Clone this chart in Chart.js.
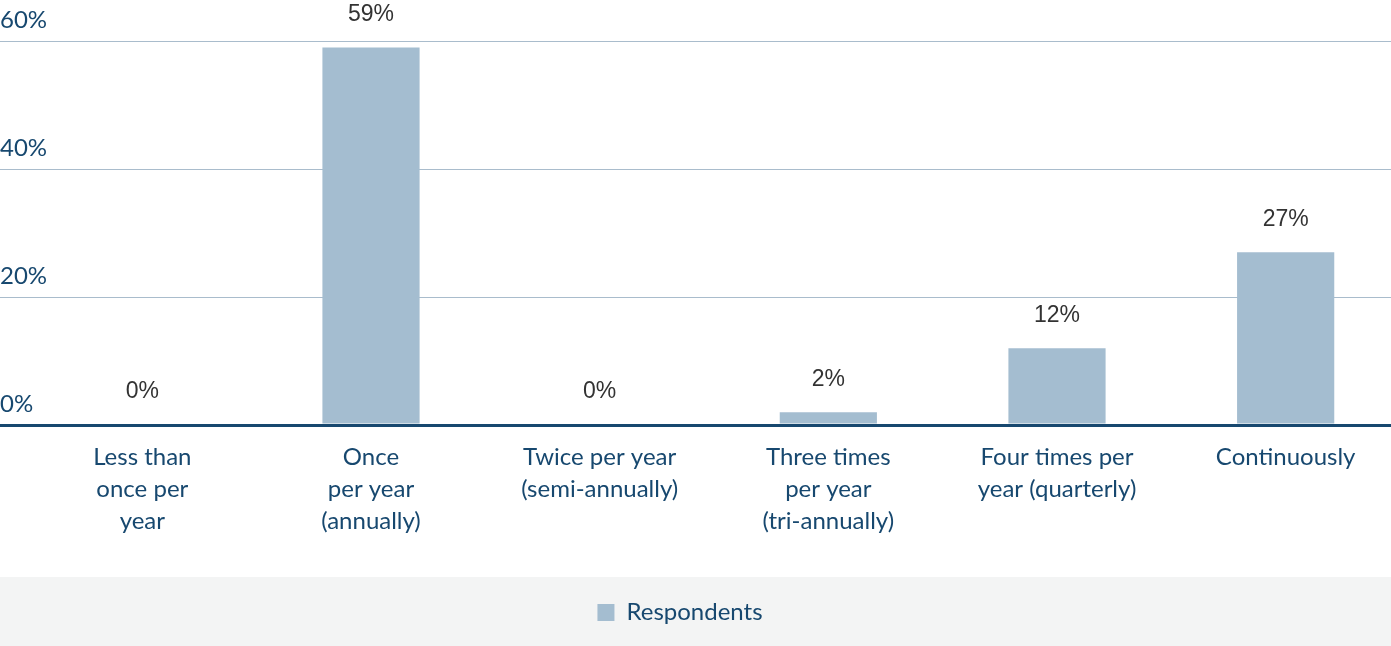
<!DOCTYPE html>
<html>
<head>
<meta charset="utf-8">
<script src="https://cdn.jsdelivr.net/npm/chart.js@4.4.1/dist/chart.umd.min.js"></script>
<style>
    body { margin: 0; overflow: hidden; background: #ffffff; }
    #wrap { width: 1400px; height: 646px; }
</style>
</head>
<body>
<div id="wrap"><canvas id="grafico" width="1400" height="646"></canvas></div>
<script>
const categorias = [
    ["Less than", "once per", "year"],
    ["Once", "per year", "(annually)"],
    ["Twice per year", "(semi-annually)"],
    ["Three times", "per year", "(tri-annually)"],
    ["Four times per", "year (quarterly)"],
    ["Continuously"]
];
const respondentes = [0, 59, 0, 2, 12, 27];
const ticksY = [0, 20, 40, 60];

const azulEscuro = '#17486f';
const azulBarra = '#a4bdd0';
const linhaGrade = '#a9bccc';

// rotulos em cima das barras
const rotulosBarras = {
    id: 'rotulosBarras',
    afterDatasetsDraw(chart) {
        const ctx = chart.ctx;
        const meta = chart.getDatasetMeta(0);
        ctx.save();
        ctx.font = '23px "Liberation Sans", Arial, sans-serif';
        ctx.fillStyle = '#333333';
        ctx.textAlign = 'center';
        ctx.textBaseline = 'middle';
        meta.data.forEach((barra, i) => {
            ctx.fillText(respondentes[i] + '%', barra.x, barra.y - 33);
        });
        ctx.restore();
    }
};

// fundo cinza da legenda (comeca um pouco acima da caixa da legenda)
const fundoLegenda = {
    id: 'fundoLegenda',
    afterLayout(chart) {
        chart.legend.left = 0;
        chart.legend.right = 1360;
    },
    beforeDraw(chart) {
        const ctx = chart.ctx;
        const topo = chart.scales.x.top + 152;
        ctx.save();
        ctx.fillStyle = '#f3f4f4';
        ctx.fillRect(0, topo, chart.width, chart.height - topo);
        ctx.restore();
    }
};

new Chart(document.getElementById('grafico'), {
    type: 'bar',
    data: {
        labels: categorias,
        datasets: [{
            label: 'Respondents',
            data: respondentes,
            backgroundColor: azulBarra,
            borderWidth: 0,
            categoryPercentage: 1,
            barPercentage: 0.425
        }]
    },
    options: {
        responsive: false,
        animation: false,
        devicePixelRatio: 1,
        layout: { padding: { top: 41, left: 0, right: 0, bottom: 11.5 } },
        scales: {
            x: {
                z: 1,
                grid: { display: false, drawTicks: false },
                border: { display: true, color: azulEscuro, width: 3 },
                ticks: {
                    padding: 16,
                    color: azulEscuro,
                    maxRotation: 0,
                    autoSkip: false,
                    font: { family: 'Lato', size: 24, lineHeight: 32 / 24 }
                },
                afterFit(scale) { scale.height = 164.5; }
            },
            y: {
                min: 0,
                max: 60,
                afterBuildTicks(scale) { scale.ticks = ticksY.map(v => ({ value: v })); },
                grid: {
                    drawTicks: true,
                    tickLength: 28,
                    color: (c) => c.tick && c.tick.value === 0 ? azulEscuro : linhaGrade,
                    lineWidth: (c) => c.tick && c.tick.value === 0 ? 3 : 1
                },
                border: { display: false },
                ticks: {
                    mirror: true,
                    padding: -28,
                    labelOffset: -21,
                    color: azulEscuro,
                    font: { family: 'Lato', size: 24 },
                    callback: (v) => v + '%'
                },
                afterFit(scale) { scale.width = 28; }
            }
        },
        plugins: {
            tooltip: { enabled: false },
            legend: {
                position: 'bottom',
                labels: {
                    boxWidth: 17,
                    boxHeight: 17,
                    padding: 11,
                    color: azulEscuro,
                    font: { family: 'Lato', size: 24 }
                }
            }
        }
    },
    plugins: [rotulosBarras, fundoLegenda]
});
</script>
</body>
</html>
